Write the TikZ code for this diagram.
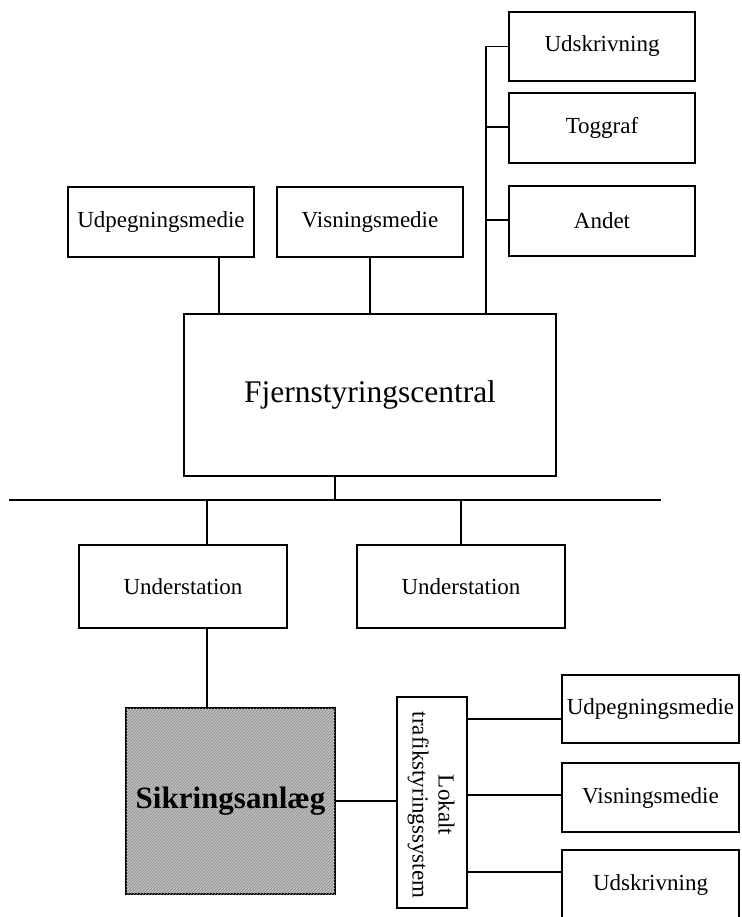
\documentclass[tikz,border=0pt]{standalone}
\usepackage{fontspec}
\setmainfont{Liberation Serif}
\usetikzlibrary{patterns}
\tikzset{
  box/.style={draw, line width=1.3pt, rectangle, inner sep=0pt, align=center,
              font=\fontsize{23}{26}\selectfont},
  wire/.style={line width=1.3pt},
}
\begin{document}
\begin{tikzpicture}[x=1pt,y=-1pt]
\useasboundingbox (0,0) rectangle (741,917);
\clip (0,0) rectangle (741,917);
% top right column
\node[box, minimum width=186pt, minimum height=69pt] (udsk) at (602,46.5) {Udskrivning};
\node[box, minimum width=186pt, minimum height=70pt] (tog) at (602,128) {Toggraf};
\node[box, minimum width=186pt, minimum height=70pt] (andet) at (602,221) {Andet};
% media row
\node[box, minimum width=186pt, minimum height=70pt] (udp) at (161,222) {Udpegningsmedie};
\node[box, minimum width=186pt, minimum height=70pt] (vis) at (370,222) {Visningsmedie};
% central
\node[box, minimum width=372pt, minimum height=162pt, font=\fontsize{31.5}{36}\selectfont] (fjern) at (370,395) {Fjernstyringscentral};
% stations
\node[box, minimum width=208pt, minimum height=83pt] (us1) at (183,586.5) {Understation};
\node[box, minimum width=208pt, minimum height=83pt] (us2) at (461,586.5) {Understation};
% interlocking
\node[box, minimum width=209pt, minimum height=186pt, fill=gray!50,
      postaction={pattern=north east lines, pattern color=gray!90},
      font=\fontsize{31}{36}\selectfont\bfseries] (sik) at (230.5,801) {};
\node[font=\fontsize{31}{36}\selectfont\bfseries] (siktxt) at (sik.center) {Sikringsanlæg};
% local system
\node[box, minimum width=70pt, minimum height=211pt] (lok) at (432,802.5) {};
\node[rotate=-90, align=center, font=\fontsize{23}{26}\selectfont, inner sep=0pt] (loktxt) at (431,805) {Lokalt\\trafikstyringssystem};
% local right boxes
\node[box, minimum width=177pt, minimum height=68pt] (rudp) at (650.5,709) {Udpegningsmedie};
\node[box, minimum width=177pt, minimum height=69pt] (rvis) at (650.5,797.5) {Visningsmedie};
\node[box, minimum width=177pt, minimum height=70pt] (rudsk) at (650.5,885) {Udskrivning};
% helper coordinates
\coordinate (xa) at (219,0);
\coordinate (xb) at (335,0);
\coordinate (xc) at (207,0);
\coordinate (spine) at (486,0);
\coordinate (busL) at (9,500);
\coordinate (busR) at (661,500);
\coordinate (ya) at (0,719);
\coordinate (yb) at (0,795);
\coordinate (yc) at (0,872);
\coordinate (ytog) at (0,127);
\coordinate (yand) at (0,220);
% connectors
\draw[wire] (udp.south -| xa) -- (fjern.north -| xa);
\draw[wire] (vis.south) -- (fjern.north -| vis.south);
\draw[wire] (udsk.west -| spine) -- (fjern.north -| spine);
\draw[wire] (udsk.west -| spine) -- (udsk.west);
\draw[wire] (ytog -| spine) -- (ytog -| tog.west);
\draw[wire] (yand -| spine) -- (yand -| andet.west);
\draw[wire] (busL) -- (busR);
\draw[wire] (fjern.south -| xb) -- (busL -| xb);
\draw[wire] (busL -| xc) -- (us1.north -| xc);
\draw[wire] (busL -| us2.north) -- (us2.north);
\draw[wire] (us1.south -| xc) -- (sik.north -| xc);
\draw[wire] (sik.east) -- (lok.west |- sik.east);
\draw[wire] (ya -| lok.east) -- (ya -| rudp.west);
\draw[wire] (yb -| lok.east) -- (yb -| rvis.west);
\draw[wire] (yc -| lok.east) -- (yc -| rudsk.west);
\end{tikzpicture}
\end{document}
